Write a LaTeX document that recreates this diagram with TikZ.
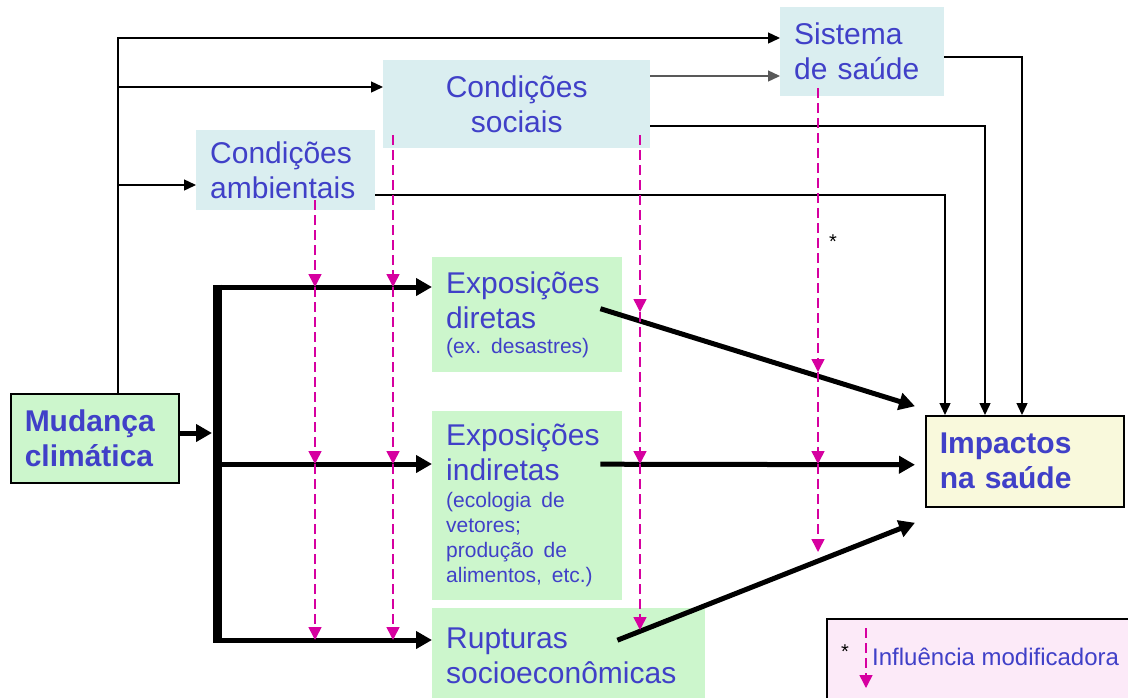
\documentclass[tikz,border=0pt]{standalone}
\usepackage{fontspec}
\setmainfont{Liberation Sans}
\usetikzlibrary{positioning,arrows.meta}
\definecolor{txtblue}{RGB}{64,64,200}
\definecolor{boxgreen}{RGB}{204,246,204}
\definecolor{boxblue}{RGB}{218,238,240}
\definecolor{boxyellow}{RGB}{249,249,220}
\definecolor{legpink}{RGB}{252,234,248}
\definecolor{infmag}{RGB}{214,0,160}
\frenchspacing

\begin{document}
\begin{tikzpicture}[x=1pt,y=-1pt,
  lbl/.style={anchor=north west,align=left,text=txtblue,inner xsep=14pt,inner ysep=0pt,
    font=\fontsize{30}{35}\selectfont},
  greenbox/.style={lbl,fill=boxgreen},
  bluebox/.style={lbl,fill=boxblue},
  link/.style={line width=1.4pt,-{Triangle[length=12pt,width=11pt]}},
  flow/.style={line width=5pt,-{Triangle[length=16pt,width=17pt]}},
  infl/.style={draw=infmag,line width=1.5pt,dash pattern=on 10pt off 5pt,
    -{Triangle[length=13pt,width=13pt]}}]
\clip (0,0) rectangle (1128,697);
\fill [white] (0,0) rectangle (1128,697);

\node [greenbox,draw=black,line width=1.5pt,font=\fontsize{30}{35}\selectfont\bfseries,
  minimum width=168pt,minimum height=89pt,text width=140pt] (mud) at (10,393) {Mudança\\climática};
\node [lbl,fill=boxyellow,draw=black,line width=1.5pt,font=\fontsize{30}{35}\selectfont\bfseries,
  minimum width=198pt,minimum height=91pt,text width=170pt] (imp) at (925,415) {Impactos\\na saúde};
\node [bluebox,minimum width=164pt,minimum height=89pt,text width=136pt] (sis) at (780,7) {Sistema\\de saúde};
\node [bluebox,align=center,minimum width=267pt,minimum height=88pt,text width=239pt] (soc) at (383,60) {Condições\\sociais};
\node [bluebox,minimum width=179pt,minimum height=80pt,text width=151pt] (amb) at (196,130) {Condições\\ambientais};
\node [greenbox,minimum width=190pt,minimum height=115pt,text width=162pt] (dir) at (432,257)
  {Exposições\\diretas\\[-10pt]\parbox[t]{162pt}{\raggedright\fontsize{21}{25}\selectfont (ex.\ desastres)}};
\node [greenbox,minimum width=190pt,minimum height=189pt,text width=162pt] (ind) at (432,411)
  {Exposições\\indiretas\\[-8pt]\parbox[t]{162pt}{\raggedright\fontsize{21}{25}\selectfont (ecologia de\\vetores;\\produção de\\alimentos, etc.)}};
\node [greenbox,minimum width=273pt,minimum height=95pt,text width=245pt] (rup) at (432,608) {Rupturas\\socioeconômicas};
\node [anchor=north west,draw=black,line width=1.5pt,fill=legpink,minimum width=320pt,minimum height=100pt] (leg) at (826,618) {};

\coordinate (trunk) at (118,38);
\coordinate (j2) at (118,87);
\coordinate (j3) at (118,185);
\draw [link] (mud.north -| trunk) -- (trunk) -- (trunk -| sis.west);
\draw [link] (j2) -- (j2 -| soc.west);
\draw [link] (j3) -- (j3 -| amb.west);
\coordinate (k1) at (0,76);
\coordinate (k2) at (985,126);
\coordinate (k3) at (945,195);
\coordinate (k4) at (1022,57);
\draw [link,draw=black!65] (soc.east |- k1) -- (sis.west |- k1);
\draw [link] (soc.east |- k2) -- (k2) -- (k2 |- imp.north);
\draw [link] (amb.east |- k3) -- (k3) -- (k3 |- imp.north);
\draw [link] (sis.east |- k4) -- (k4) -- (k4 |- imp.north);

\coordinate (r1) at (217,287);
\coordinate (r2) at (217,464);
\coordinate (r3) at (217,640);
\coordinate (mj) at (212,433);
\draw [line width=9pt] ([yshift=2.5pt]r1) -- ([yshift=-2.5pt]r3);
\draw [flow] (mud.east |- mj) -- (mj);
\draw [flow] (r1) -- (r1 -| dir.west);
\draw [flow] (r2) -- (r2 -| ind.west);
\draw [flow] (r3) -- (r3 -| rup.west);
\draw [flow] ([shift={(-22,-6)}]dir.east) -- ([shift={(-10,-55)}]imp.west);
\draw [flow] ([shift={(-22,-41.5)}]ind.east) -- ([shift={(-10,3.5)}]imp.west);
\draw [flow] ([shift={(-88,-15.5)}]rup.east) -- ([shift={(-10,61.5)}]imp.west);

\coordinate (p1) at (315,200);
\coordinate (p2) at (393,135);
\coordinate (p3) at (640,135);
\coordinate (p4) at (818,88);
\foreach \p in {p1,p2} {
  \draw [infl] (\p) -- (\p |- r1);
  \draw [infl] (\p |- r1) -- (\p |- r2);
  \draw [infl] (\p |- r2) -- (\p |- r3);
}
\foreach \p/\ya/\yc in {p3/312/630,p4/372/552} {
  \draw [infl] (\p) -- (\p |- 0,\ya);
  \draw [infl] (\p |- 0,\ya) -- (\p |- r2);
  \draw [infl] (\p |- r2) -- (\p |- 0,\yc);
}
\node [font=\fontsize{20}{20}\selectfont] (star) at (833,242) {*};

\node [font=\fontsize{20}{20}\selectfont] (legstar) at (845,652) {*};
\coordinate (lg1) at (866,628);
\coordinate (lg2) at (866,688);
\draw [infl] (lg1) -- (lg2);
\node [anchor=base west,inner sep=0pt,text=txtblue,font=\fontsize{24}{24}\selectfont] (legtxt) at (872,665) {Influência modificadora};
\end{tikzpicture}
\end{document}
